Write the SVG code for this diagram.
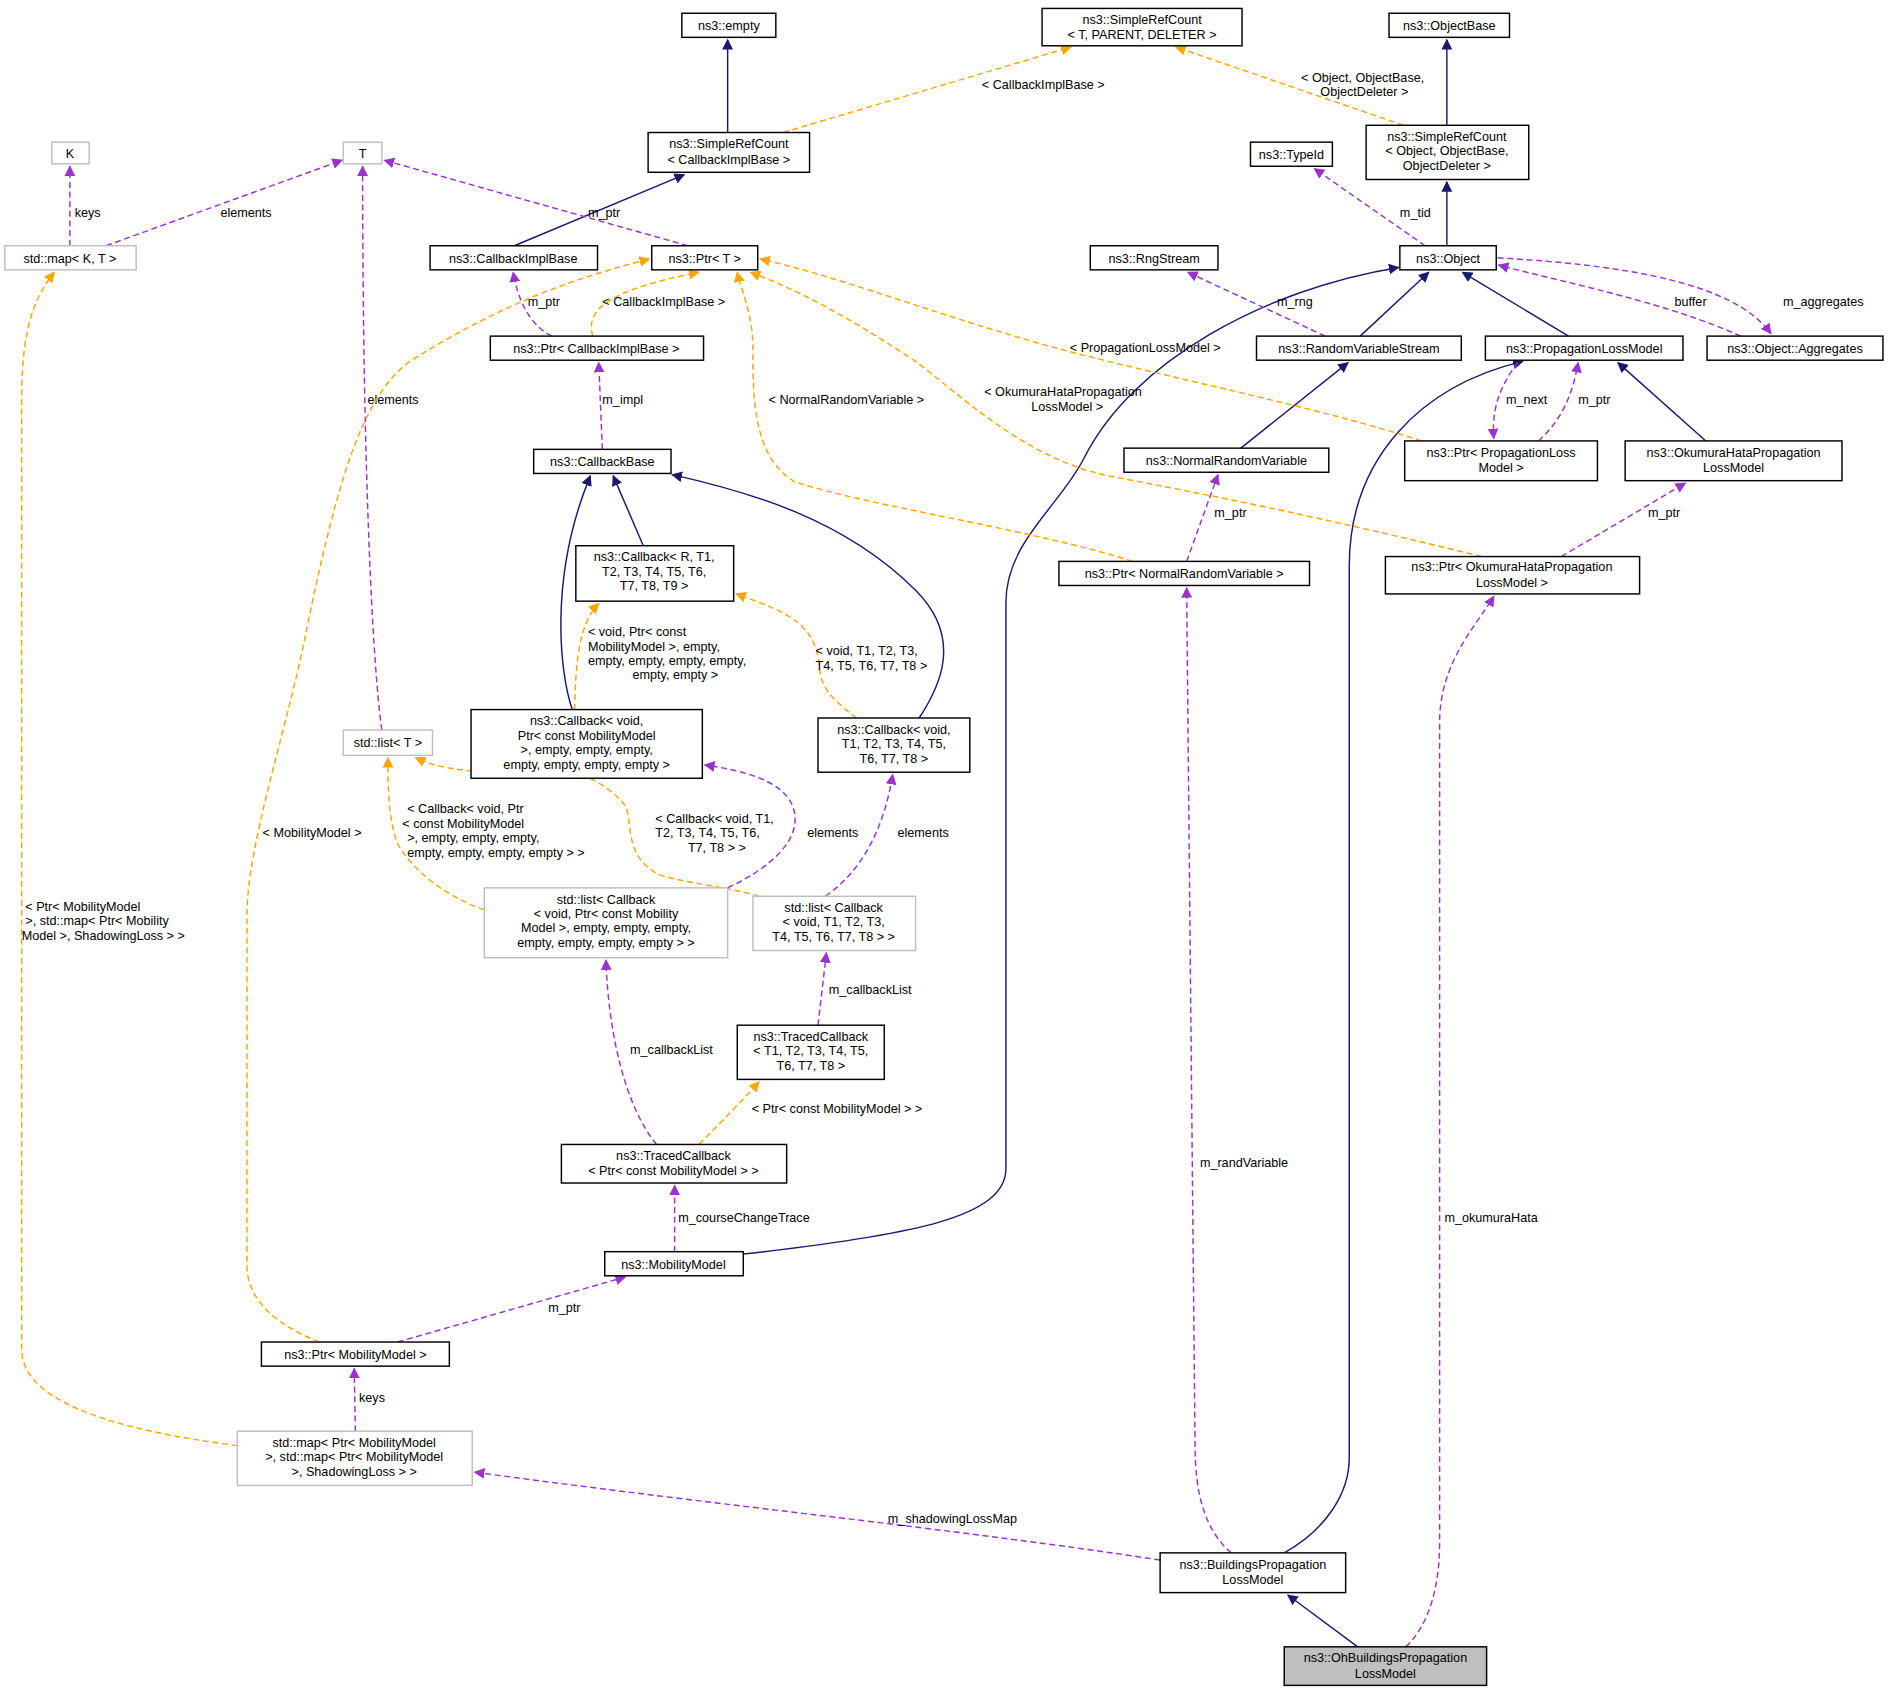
<svg xmlns="http://www.w3.org/2000/svg" width="1889" height="1693" viewBox="0 0 1889 1693">
<defs>
<style>
text{font-family:"Liberation Sans",Arial,sans-serif;font-size:10.5px;fill:#000}
.n rect{fill:#fff;stroke:#000;stroke-width:1.2}
.g rect{fill:#fff;stroke:#bfbfbf;stroke-width:1.2}
.n text,.g text{text-anchor:middle}
.b{fill:none;stroke:#191970;stroke-width:1.2;marker-end:url(#ab)}
.p{fill:none;stroke:#9a32cd;stroke-width:1.2;stroke-dasharray:5,3;marker-end:url(#ap)}
.o{fill:none;stroke:#ffa500;stroke-width:1.2;stroke-dasharray:5,3;marker-end:url(#ao)}
</style>
<marker id="ab" viewBox="0 0 10 10" refX="9" refY="5" markerWidth="9" markerHeight="9" markerUnits="userSpaceOnUse" orient="auto"><path d="M0,0L10,5L0,10z" fill="#191970"/></marker>
<marker id="ap" viewBox="0 0 10 10" refX="9" refY="5" markerWidth="9" markerHeight="9" markerUnits="userSpaceOnUse" orient="auto"><path d="M0,0L10,5L0,10z" fill="#9a32cd"/></marker>
<marker id="ao" viewBox="0 0 10 10" refX="9" refY="5" markerWidth="9" markerHeight="9" markerUnits="userSpaceOnUse" orient="auto"><path d="M0,0L10,5L0,10z" fill="#ffa500"/></marker>
</defs>
<rect width="1889" height="1693" fill="#fff"/>
<g transform="scale(1.2047)">
<g id="connectors">
<path class="b" d="M604,110L604,33"/>
<path class="b" d="M427,204L568,145"/>
<path class="b" d="M1201,104L1201,33"/>
<path class="b" d="M1201,204L1201,151"/>
<path class="b" d="M1129,279L1186,226"/>
<path class="b" d="M1302,279L1214,226"/>
<path class="b" d="M1030,372L1119,301"/>
<path class="b" d="M1416,366L1343,301"/>
<path class="b" d="M534,453L509,395"/>
<path class="b" d="M475,589C465,560 455,480 490,395"/>
<path class="b" d="M763,596C780,570 800,530 760,490C700,430 620,408 558,394"/>
<path class="b" d="M617,1041C760,1025 835,1010 835,970L835,500C835,450 880,420 900,380C940,300 1050,240 1161,222"/>
<path class="b" d="M1066,1289C1100,1270 1120,1240 1120,1210L1120,470C1120,380 1180,320 1264,300"/>
<path class="b" d="M1127,1367L1069,1324"/>

<path class="p" d="M58,204L58,138"/><text x="62" y="180">keys</text>
<path class="p" d="M88,204L284,133"/><text x="183" y="180">elements</text>
<path class="p" d="M571,204L319,133"/><text x="488" y="180">m_ptr</text>
<path class="p" d="M458,279C440,270 430,250 426,226"/><text x="438" y="254">m_ptr</text>
<path class="p" d="M500,373L497,301"/><text x="500" y="335">m_impl</text>
<path class="p" d="M317,606C310,560 301,400 301,138"/><text x="305" y="335">elements</text>
<path class="p" d="M985,466L1011,394"/><text x="1008" y="429">m_ptr</text>
<path class="p" d="M1296,462L1399,401"/><text x="1368" y="429">m_ptr</text>
<path class="p" d="M1260,301C1245,320 1238,340 1240,364"/><text x="1250" y="335">m_next</text>
<path class="p" d="M1277,366C1295,350 1305,330 1310,301"/><text x="1310" y="335">m_ptr</text>
<path class="p" d="M1445,279C1380,250 1300,235 1244,220"/><text x="1390" y="254">buffer</text>
<path class="p" d="M1243,214C1350,220 1440,235 1470,277"/><text x="1480" y="254">m_aggregates</text>
<path class="p" d="M1183,204L1091,140"/><text x="1162" y="180">m_tid</text>
<path class="p" d="M1100,279L986,226"/><text x="1060" y="254">m_rng</text>
<path class="p" d="M685,744C720,720 735,680 741,643"/><text x="745" y="695">elements</text>
<path class="p" d="M604,737C640,720 660,700 660,680C660,650 620,640 585,635"/><text x="670" y="695">elements</text>
<path class="p" d="M545,950C520,920 505,860 503,797"/><text x="523" y="875">m_callbackList</text>
<path class="p" d="M679,851L686,791"/><text x="688" y="825">m_callbackList</text>
<path class="p" d="M560,1039L560,984"/><text x="563" y="1014">m_courseChangeTrace</text>
<path class="p" d="M330,1114L519,1060"/><text x="455" y="1089">m_ptr</text>
<path class="p" d="M295,1188L294,1136"/><text x="298" y="1164">keys</text>
<path class="p" d="M963,1295C800,1270 600,1250 394,1222"/><text x="737" y="1264">m_shadowingLossMap</text>
<path class="p" d="M1022,1289C1000,1270 992,1240 992,1200L985,488"/><text x="996" y="969">m_randVariable</text>
<path class="p" d="M1167,1367C1185,1350 1195,1320 1195,1280L1195,600C1195,550 1225,520 1240,495"/><text x="1199" y="1014">m_okumuraHata</text>

<path class="o" d="M650,110L889,39"/><text x="815" y="74">&lt; CallbackImplBase &gt;</text>
<path class="o" d="M1165,104L976,39"/><text x="1080" y="68">&lt; Object, ObjectBase,</text><text x="1096" y="80">ObjectDeleter &gt;</text>
<path class="o" d="M492,279C485,255 510,240 580,226"/><text x="500" y="254">&lt; CallbackImplBase &gt;</text>
<path class="o" d="M1180,366C1100,340 1000,320 900,295C800,270 700,230 631,215"/><text x="888" y="292">&lt; PropagationLossModel &gt;</text>
<path class="o" d="M940,466C860,440 720,420 660,400C625,380 625,330 625,290C625,260 615,240 612,226"/><text x="638" y="335">&lt; NormalRandomVariable &gt;</text>
<path class="o" d="M1230,462C1100,430 1000,410 920,395C850,380 800,330 760,300C700,260 660,240 623,226"/><text x="817" y="329">&lt; OkumuraHataPropagation</text><text x="856" y="341">LossModel &gt;</text>
<path class="o" d="M265,1114C230,1100 205,1080 205,1050L205,760C205,700 240,600 255,520C280,400 300,330 340,300C420,250 480,230 539,215"/><text x="218" y="695">&lt; MobilityModel &gt;</text>
<path class="o" d="M197,1200C120,1190 18,1170 18,1120L18,330C18,270 30,245 45,226"/><text x="21" y="756">&lt; Ptr&lt; MobilityModel</text><text x="21" y="768">&gt;, std::map&lt; Ptr&lt; Mobility</text><text x="18" y="780">Model &gt;, ShadowingLoss &gt; &gt;</text>
<path class="o" d="M402,755C370,745 340,720 330,700C322,680 322,650 322,629"/><text x="338" y="675">&lt; Callback&lt; void, Ptr</text><text x="334" y="687">&lt; const MobilityModel</text><text x="338" y="699">&gt;, empty, empty, empty,</text><text x="338" y="711">empty, empty, empty, empty &gt; &gt;</text>
<path class="o" d="M630,744C600,735 560,732 545,725C520,710 525,690 520,670C505,650 480,640 460,638C420,640 380,645 345,629"/><text x="544" y="683">&lt; Callback&lt; void, T1,</text><text x="544" y="695">T2, T3, T4, T5, T6,</text><text x="571" y="707">T7, T8 &gt; &gt;</text>
<path class="o" d="M477,589C478,560 478,520 497,501"/><text x="488" y="528">&lt; void, Ptr&lt; const</text><text x="488" y="540">MobilityModel &gt;, empty,</text><text x="488" y="552">empty, empty, empty, empty,</text><text x="525" y="564">empty, empty &gt;</text>
<path class="o" d="M711,596C690,580 680,570 680,550C675,520 660,510 611,493"/><text x="677" y="544">&lt; void, T1, T2, T3,</text><text x="677" y="556">T4, T5, T6, T7, T8 &gt;</text>
<path class="o" d="M580,950C600,930 615,915 630,898"/><text x="624" y="924">&lt; Ptr&lt; const MobilityModel &gt; &gt;</text>
</g>

<g id="empty" class="n"><rect x="566" y="11" width="78" height="20"/><text x="605" y="25">ns3::empty</text></g>
<g id="srcTPD" class="n"><rect x="865" y="7" width="166" height="31"/><text x="948" y="20">ns3::SimpleRefCount</text><text x="948" y="32">&lt; T, PARENT, DELETER &gt;</text></g>
<g id="objectbase" class="n"><rect x="1153" y="11" width="100" height="20"/><text x="1203" y="25">ns3::ObjectBase</text></g>
<g id="K" class="g"><rect x="43" y="118" width="31" height="18"/><text x="58" y="131">K</text></g>
<g id="T" class="g"><rect x="285" y="118" width="32" height="18"/><text x="301" y="131">T</text></g>
<g id="srcCIB" class="n"><rect x="538" y="110" width="134" height="33"/><text x="605" y="123">ns3::SimpleRefCount</text><text x="605" y="136">&lt; CallbackImplBase &gt;</text></g>
<g id="typeid" class="n"><rect x="1038" y="118" width="68" height="20"/><text x="1072" y="132">ns3::TypeId</text></g>
<g id="srcObj" class="n"><rect x="1134" y="104" width="135" height="45"/><text x="1201" y="117">ns3::SimpleRefCount</text><text x="1201" y="129">&lt; Object, ObjectBase,</text><text x="1201" y="141">ObjectDeleter &gt;</text></g>
<g id="mapKT" class="g"><rect x="4" y="204" width="109" height="20"/><text x="58" y="218">std::map&lt; K, T &gt;</text></g>
<g id="cib" class="n"><rect x="357" y="204" width="139" height="20"/><text x="426" y="218">ns3::CallbackImplBase</text></g>
<g id="ptrT" class="n"><rect x="541" y="204" width="88" height="20"/><text x="585" y="218">ns3::Ptr&lt; T &gt;</text></g>
<g id="rng" class="n"><rect x="905" y="204" width="106" height="20"/><text x="958" y="218">ns3::RngStream</text></g>
<g id="object" class="n"><rect x="1162" y="204" width="80" height="20"/><text x="1202" y="218">ns3::Object</text></g>
<g id="ptrCIB" class="n"><rect x="407" y="279" width="177" height="20"/><text x="495" y="293">ns3::Ptr&lt; CallbackImplBase &gt;</text></g>
<g id="rvs" class="n"><rect x="1043" y="279" width="170" height="20"/><text x="1128" y="293">ns3::RandomVariableStream</text></g>
<g id="plm" class="n"><rect x="1233" y="279" width="164" height="20"/><text x="1315" y="293">ns3::PropagationLossModel</text></g>
<g id="agg" class="n"><rect x="1417" y="279" width="146" height="20"/><text x="1490" y="293">ns3::Object::Aggregates</text></g>
<g id="cbbase" class="n"><rect x="443" y="373" width="114" height="20"/><text x="500" y="387">ns3::CallbackBase</text></g>
<g id="nrv" class="n"><rect x="933" y="372" width="170" height="20"/><text x="1018" y="386">ns3::NormalRandomVariable</text></g>
<g id="ptrPLM" class="n"><rect x="1166" y="366" width="160" height="33"/><text x="1246" y="379">ns3::Ptr&lt; PropagationLoss</text><text x="1246" y="392">Model &gt;</text></g>
<g id="oh" class="n"><rect x="1349" y="366" width="180" height="33"/><text x="1439" y="379">ns3::OkumuraHataPropagation</text><text x="1439" y="392">LossModel</text></g>
<g id="cbR" class="n"><rect x="478" y="453" width="131" height="46"/><text x="543" y="466">ns3::Callback&lt; R, T1,</text><text x="543" y="478">T2, T3, T4, T5, T6,</text><text x="543" y="490">T7, T8, T9 &gt;</text></g>
<g id="ptrNRV" class="n"><rect x="879" y="466" width="208" height="20"/><text x="983" y="480">ns3::Ptr&lt; NormalRandomVariable &gt;</text></g>
<g id="ptrOH" class="n"><rect x="1150" y="462" width="211" height="31"/><text x="1255" y="474">ns3::Ptr&lt; OkumuraHataPropagation</text><text x="1255" y="487">LossModel &gt;</text></g>
<g id="listT" class="g"><rect x="285" y="606" width="74" height="21"/><text x="322" y="620">std::list&lt; T &gt;</text></g>
<g id="cbVoidPtr" class="n"><rect x="391" y="589" width="192" height="57"/><text x="487" y="602">ns3::Callback&lt; void,</text><text x="487" y="614">Ptr&lt; const MobilityModel</text><text x="487" y="626">&gt;, empty, empty, empty,</text><text x="487" y="638">empty, empty, empty, empty &gt;</text></g>
<g id="cbVoidT" class="n"><rect x="679" y="596" width="126" height="45"/><text x="742" y="609">ns3::Callback&lt; void,</text><text x="742" y="621">T1, T2, T3, T4, T5,</text><text x="742" y="633">T6, T7, T8 &gt;</text></g>
<g id="listCbPtr" class="g"><rect x="402" y="737" width="202" height="58"/><text x="503" y="750">std::list&lt; Callback</text><text x="503" y="762">&lt; void, Ptr&lt; const Mobility</text><text x="503" y="774">Model &gt;, empty, empty, empty,</text><text x="503" y="786">empty, empty, empty, empty &gt; &gt;</text></g>
<g id="listCbT" class="g"><rect x="625" y="744" width="135" height="45"/><text x="692" y="757">std::list&lt; Callback</text><text x="692" y="769">&lt; void, T1, T2, T3,</text><text x="692" y="781">T4, T5, T6, T7, T8 &gt; &gt;</text></g>
<g id="tcT" class="n"><rect x="612" y="851" width="122" height="45"/><text x="673" y="864">ns3::TracedCallback</text><text x="673" y="876">&lt; T1, T2, T3, T4, T5,</text><text x="673" y="888">T6, T7, T8 &gt;</text></g>
<g id="tcPtr" class="n"><rect x="466" y="950" width="187" height="32"/><text x="559" y="963">ns3::TracedCallback</text><text x="559" y="975">&lt; Ptr&lt; const MobilityModel &gt; &gt;</text></g>
<g id="mm" class="n"><rect x="502" y="1039" width="115" height="20"/><text x="559" y="1053">ns3::MobilityModel</text></g>
<g id="ptrMM" class="n"><rect x="217" y="1114" width="156" height="20"/><text x="295" y="1128">ns3::Ptr&lt; MobilityModel &gt;</text></g>
<g id="mapPtr" class="g"><rect x="197" y="1188" width="195" height="45"/><text x="294" y="1201">std::map&lt; Ptr&lt; MobilityModel</text><text x="294" y="1213">&gt;, std::map&lt; Ptr&lt; MobilityModel</text><text x="294" y="1225">&gt;, ShadowingLoss &gt; &gt;</text></g>
<g id="bplm" class="n"><rect x="963" y="1289" width="154" height="33"/><text x="1040" y="1302">ns3::BuildingsPropagation</text><text x="1040" y="1315">LossModel</text></g>
<g id="ohb" class="n"><rect x="1066" y="1367" width="168" height="32" style="fill:#bfbfbf"/><text x="1150" y="1380">ns3::OhBuildingsPropagation</text><text x="1150" y="1393">LossModel</text></g>
</g>
</svg>
